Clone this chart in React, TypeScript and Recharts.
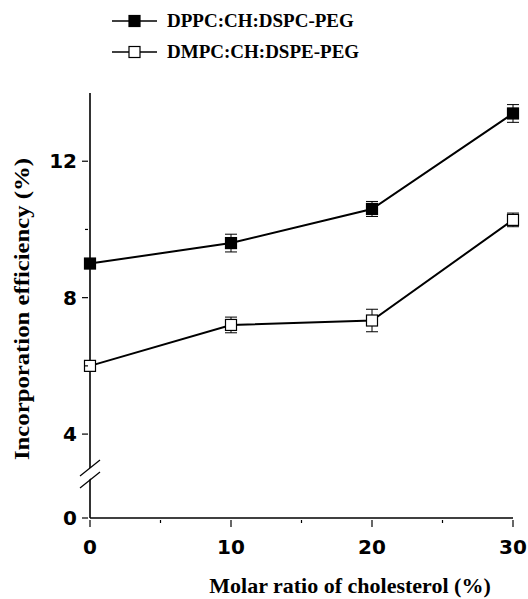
import { LineChart, Line, XAxis, YAxis, ErrorBar } from 'recharts';

const cholesterol = [0, 10, 20, 30];
const dppcValues = [9.0, 9.6, 10.6, 13.4];
const dppcErrors = [0.1, 0.26, 0.22, 0.26];
const dmpcValues = [6.0, 7.2, 7.33, 10.28];
const dmpcErrors = [0.1, 0.23, 0.33, 0.2];

const seriesNames = ['DPPC:CH:DSPC-PEG', 'DMPC:CH:DSPE-PEG'];

// y axis is broken: the 0..4 span is squeezed, so "0" sits at this scale value
const Y_ZERO = 1.54;
const yTicks = [Y_ZERO, 4, 6, 8, 10, 12];
const yMajor: Record<number, string> = { [Y_ZERO]: '0', 4: '4', 8: '8', 12: '12' };
const xTicks = [0, 5, 10, 15, 20, 25, 30];
const xMajor = [0, 10, 20, 30];

const data = cholesterol.map((c, i) => ({
  x: c,
  dppc: dppcValues[i],
  dppcErr: dppcErrors[i],
  dmpc: dmpcValues[i],
  dmpcErr: dmpcErrors[i],
}));

const SERIF = '"Liberation Serif", "Times New Roman", serif';
const SANS = '"DejaVu Sans", sans-serif';

// eslint-disable-next-line @typescript-eslint/no-explicit-any
const YTick = ({ x, y, payload }: any) => {
  const label = yMajor[payload.value];
  return (
    <g>
      <line x1={x - (label ? 6 : 3)} x2={x} y1={y} y2={y} stroke="#000" strokeWidth={1.2} />
      {label && (
        <text x={x - 11} y={y} dy={7} textAnchor="end" fontFamily={SANS} fontWeight="bold" fontSize={20} fill="#000">
          {label}
        </text>
      )}
    </g>
  );
};

// eslint-disable-next-line @typescript-eslint/no-explicit-any
const XTick = ({ x, y, payload }: any) => {
  const major = xMajor.includes(payload.value);
  return (
    <g>
      <line x1={x} x2={x} y1={y} y2={y + (major ? 7 : 3)} stroke="#000" strokeWidth={1.2} />
      {major && (
        <text x={x} y={y + 34} textAnchor="middle" fontFamily={SANS} fontWeight="bold" fontSize={20} fill="#000">
          {payload.value}
        </text>
      )}
    </g>
  );
};

// eslint-disable-next-line @typescript-eslint/no-explicit-any
const squareDot = (filled: boolean) => (p: any) => (
  <rect
    key={p.index}
    x={p.cx - 5.5}
    y={p.cy - 5.5}
    width={11}
    height={11}
    fill={filled ? '#000' : '#fff'}
    stroke="#000"
    strokeWidth={1.2}
  />
);

const Legend = () => (
  <svg width={528} height={80} style={{ position: 'absolute', left: 0, top: 0 }}>
    {seriesNames.map((name, i) => {
      const y = 21 + i * 31;
      return (
        <g key={name}>
          <line x1={112} x2={157} y1={y} y2={y} stroke="#000" strokeWidth={1.6} />
          <rect x={129} y={y - 5.5} width={11} height={11} fill={i === 0 ? '#000' : '#fff'} stroke="#000" strokeWidth={1.2} />
          <text x={167} y={y + 6} fontFamily={SERIF} fontWeight="bold" fontSize={19} fill="#000">
            {name}
          </text>
        </g>
      );
    })}
  </svg>
);

const AxisBreak = () => (
  <svg width={528} height={599} style={{ position: 'absolute', left: 0, top: 0, pointerEvents: 'none' }}>
    <polygon points="80,476 100,460 100,471 80,487" fill="#fff" />
    <line x1={80} y1={476} x2={100} y2={460} stroke="#000" strokeWidth={1.2} />
    <line x1={80} y1={488} x2={100} y2={472} stroke="#000" strokeWidth={1.2} />
  </svg>
);

export default function App() {
  return (
    <div style={{ position: 'fixed', left: 0, top: 0, width: 528, height: 599, background: '#fff' }}>
      <LineChart width={528} height={599} data={data} margin={{ top: 93, right: 15, left: 0, bottom: 0 }}>
        <XAxis
          dataKey="x"
          type="number"
          domain={[0, 30]}
          ticks={xTicks}
          interval={0}
          tickSize={0}
          tickLine={false}
          tick={<XTick />}
          axisLine={{ stroke: '#000', strokeWidth: 1.6 }}
          height={81}
          label={{
            content: () => (
              <text x={350} y={593} textAnchor="middle" fontFamily={SERIF} fontWeight="bold" fontSize={22} fill="#000">
                Molar ratio of cholesterol (%)
              </text>
            ),
          }}
        />
        <YAxis
          type="number"
          domain={[Y_ZERO, 14]}
          ticks={yTicks}
          interval={0}
          tickSize={0}
          tickLine={false}
          tick={<YTick />}
          axisLine={{ stroke: '#000', strokeWidth: 1.6 }}
          width={90}
          allowDataOverflow
          label={{
            content: () => (
              <text
                x={29}
                y={309}
                transform="rotate(-90 29 309)"
                textAnchor="middle"
                textLength={302}
                lengthAdjust="spacingAndGlyphs"
                fontFamily={SERIF}
                fontWeight="bold"
                fontSize={22}
                fill="#000"
              >
                Incorporation efficiency (%)
              </text>
            ),
          }}
        />
        <Line
          dataKey="dppc"
          stroke="#000"
          strokeWidth={2}
          dot={squareDot(true)}
          activeDot={false}
          isAnimationActive={false}
        >
          <ErrorBar dataKey="dppcErr" direction="y" width={6} stroke="#000" strokeWidth={1} />
        </Line>
        <Line
          dataKey="dmpc"
          stroke="#000"
          strokeWidth={2}
          dot={squareDot(false)}
          activeDot={false}
          isAnimationActive={false}
        >
          <ErrorBar dataKey="dmpcErr" direction="y" width={6} stroke="#000" strokeWidth={1} />
        </Line>
      </LineChart>
      <Legend />
      <AxisBreak />
    </div>
  );
}
